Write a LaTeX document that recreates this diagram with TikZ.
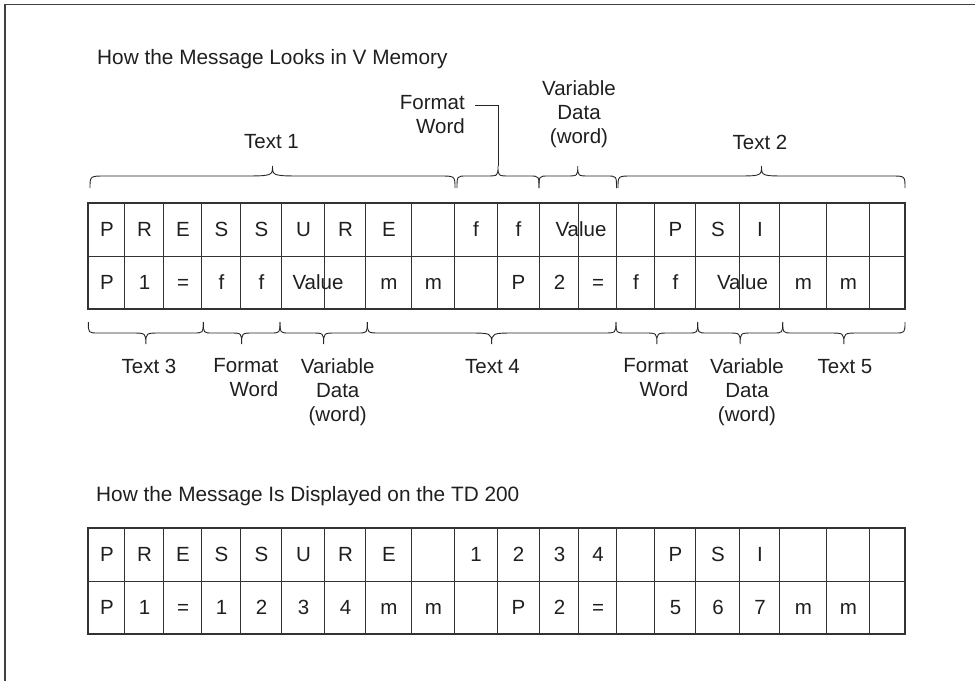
\documentclass[tikz,border=0pt]{standalone}
\usepackage{fontspec}
\setmainfont{Liberation Sans}
\newcommand\curlybr[5]{% x1 x2 ytip yh ypeak
  \pgfmathsetmacro\brW{#2-#1}%
  \pgfmathsetmacro\brE{8+0.02*\brW}%
  \pgfmathsetmacro\brM{6+0.075*\brW}%
  \pgfmathsetmacro\brC{(#1+#2)/2}%
  \draw[brline] (#1,#3) .. controls (#1,#4) .. (#1+\brE,#4) -- (\brC-\brM,#4)
    .. controls (\brC,#4) .. (\brC,#5) .. controls (\brC,#4) .. (\brC+\brM,#4)
    -- (#2-\brE,#4) .. controls (#2,#4) .. (#2,#3);
}
\begin{document}
\begin{tikzpicture}[x=1pt,y=-1pt,
  txt/.style={font=\fontsize{20.5}{24}\selectfont, inner sep=0pt, text=black!88},
  ttl/.style={font=\fontsize{20.8}{24}\selectfont, inner sep=0pt, text=black!88, anchor=base west},
  cell/.style={txt, anchor=base},
  gridline/.style={draw=black!80, line width=0.8pt},
  outerline/.style={draw=black!80, line width=1.4pt},
  brline/.style={draw=black!85, line width=0.9pt},
  frameline/.style={draw=black!75, line width=1.6pt}]
\useasboundingbox (0,0) rectangle (975,681);
% frame
\coordinate (fbl) at (5,681);
\coordinate (ftl) at (5,4.5);
\coordinate (ftr) at (975,4.5);
\draw[frameline] (fbl) -- (ftl) -- (ftr);

% titles
\node[ttl] (title1) at (97,64) {How the Message Looks in V Memory};
\node[ttl] (title2) at (96,501) {How the Message Is Displayed on the TD 200};

% grids
\foreach \ya/\yb/\ym in {203/309/256, 528/634/581}{
  \foreach \x in {124,163,201,240,281,324,365,411,454,497,539,578,616,654,695,739,779,826,869}
    \draw[gridline] (\x,\ya) -- (\x,\yb);
  \draw[gridline] (88,\ym) -- (905,\ym);
  \draw[outerline] (88,\ya) rectangle (905,\yb);
}

% upper table row 1
\foreach \x/\t [count=\i] in {107/P,144.5/R,183/E,221.5/S,261.5/S,303.5/U,345.5/R,389/E,476/f,518.5/f,581/Value,675.5/P,718/S,760/I}
  \node[cell] (ua\i) at (\x,236.5) {\t};
% upper table row 2
\foreach \x/\t [count=\i] in {107/P,144.5/1,183/=,221.5/f,261.5/f,318/Value,389/m,433.5/m,518.5/P,559.5/2,598/=,636/f,675.5/f,742.5/Value,803.5/m,848.5/m}
  \node[cell] (ub\i) at (\x,289.5) {\t};
% lower table row 1
\foreach \x/\t [count=\i] in {107/P,144.5/R,183/E,221.5/S,261.5/S,303.5/U,345.5/R,389/E,476/1,518.5/2,559.5/3,598/4,675.5/P,718/S,760/I}
  \node[cell] (la\i) at (\x,561.5) {\t};
% lower table row 2
\foreach \x/\t [count=\i] in {107/P,144.5/1,183/=,221.5/1,261.5/2,303.5/3,345.5/4,389/m,433.5/m,518.5/P,559.5/2,598/=,675.5/5,718/6,760/7,803.5/m,848.5/m}
  \node[cell] (lb\i) at (\x,614.5) {\t};

% upper braces
\curlybr{90}{455}{188}{176}{166}
\curlybr{457}{539}{188}{176}{166}
\curlybr{539}{616.5}{188}{176}{166}
\curlybr{618}{905}{188}{176}{166}

% lower braces
\curlybr{88.3}{203.3}{322}{333}{344}
\curlybr{203.3}{280}{322}{333}{344}
\curlybr{280}{367.3}{322}{333}{344}
\curlybr{367.3}{616}{322}{333}{344}
\curlybr{616}{697.7}{322}{333}{344}
\curlybr{697.7}{782.7}{322}{333}{344}
\curlybr{782.7}{905}{322}{333}{344}

% upper labels
\node[txt, anchor=base] (t1) at (271.5,148.3) {Text 1};
\node[txt, anchor=base] (t2) at (760,149) {Text 2};
\node[txt, anchor=north east, align=right] (fw1) at (465,95.3) {Format\\Word};
\node[txt, anchor=north, align=center] (vd1) at (579,80.3) {Variable\\Data\\(word)};
\coordinate (fwpk) at (498,166);
\coordinate (fwend) at (475,105);
\draw[brline] (fwpk) |- (fwend);

% lower labels
\node[txt, anchor=base] (t3) at (149,373) {Text 3};
\node[txt, anchor=base] (t4) at (492.5,373) {Text 4};
\node[txt, anchor=base] (t5) at (845,373) {Text 5};
\node[txt, anchor=north east, align=right] (fw2) at (278.5,358.3) {Format\\Word};
\node[txt, anchor=north east, align=right] (fw3) at (688.5,358.3) {Format\\Word};
\node[txt, anchor=north, align=center] (vd2) at (337.7,358.3) {Variable\\Data\\(word)};
\node[txt, anchor=north, align=center] (vd3) at (747,358.3) {Variable\\Data\\(word)};
\end{tikzpicture}
\end{document}
